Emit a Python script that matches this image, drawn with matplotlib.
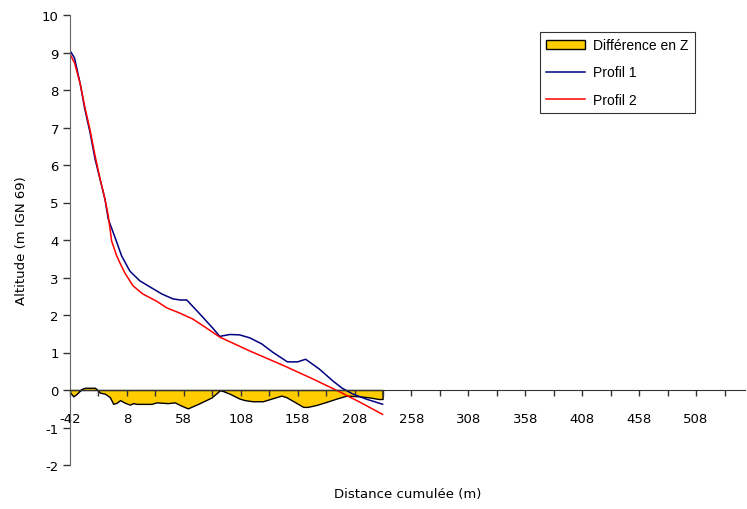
import numpy as np
import matplotlib
matplotlib.use("Agg")
import matplotlib.pyplot as plt
from matplotlib.patches import Patch
from matplotlib.lines import Line2D

plt.rcParams['axes.unicode_minus'] = False

# Profil 1 (blue)
x1 = [-42, -38, -33, -29, -24.5, -20, -15.7, -11.3, -8.4, -2, 3.3, 10.6, 19.4, 28.2,
      38.7, 48.4, 55, 60.6, 72, 83.4, 89.6, 98.4, 107, 116, 126.4, 136, 149, 158,
      165, 177, 189, 197, 206, 218, 232.6]
y1 = [9.05, 8.85, 8.16, 7.49, 6.88, 6.16, 5.63, 5.09, 4.56, 4.03, 3.58, 3.17, 2.91, 2.75,
      2.56, 2.43, 2.40, 2.40, 2.03, 1.65, 1.43, 1.48, 1.47, 1.39, 1.23, 1.01, 0.75, 0.75,
      0.82, 0.56, 0.24, 0.05, -0.10, -0.24, -0.38]

# Profil 2 (red)
x2 = [-42, -38, -33, -29, -24.5, -20, -15.7, -11.3, -8.4, -5.4, -1, 2, 6.2, 13.3, 22,
      34, 43, 54.5, 66, 78, 89.6, 116, 145, 171, 195, 213, 232.6]
y2 = [8.96, 8.72, 8.16, 7.55, 6.95, 6.25, 5.65, 5.09, 4.65, 3.97, 3.58, 3.38, 3.12, 2.78, 2.56,
      2.37, 2.19, 2.05, 1.89, 1.65, 1.41, 1.04, 0.66, 0.30, -0.05, -0.33, -0.65]

# Différence en Z (yellow area)
xd = [-42, -39, -36, -31.7, -28.8, -20, -15.7, -11.3, -7, -4, -1, 2, 6.2, 10.6, 13.5,
      16.5, 29.6, 34, 44, 50, 56, 61.5, 70.6, 82.3, 90, 98.4, 107, 111.5, 118.5, 127.5,
      136, 143.7, 148, 155.5, 162.8, 167, 174.4, 183, 192, 201, 213, 221.6, 229, 232.6]
yd = [-0.06, -0.17, -0.10, 0.03, 0.06, 0.06, -0.07, -0.10, -0.19, -0.37, -0.34, -0.27, -0.34,
      -0.39, -0.35, -0.37, -0.37, -0.33, -0.35, -0.33, -0.42, -0.49, -0.37, -0.20, 0.0,
      -0.10, -0.23, -0.27, -0.30, -0.30, -0.22, -0.15, -0.19, -0.32, -0.45, -0.45, -0.40,
      -0.32, -0.23, -0.15, -0.17, -0.20, -0.24, -0.24]

x_start, x_end, x_step = -42, 551, 25

fig = plt.figure(figsize=(7.47, 5.10), dpi=100)
ax = fig.add_axes([70/747, 44/510, 675/747, 450/510])

ax.fill_between(xd, 0, yd, facecolor='#FFCC00', edgecolor='black', linewidth=1.0,
                zorder=1)
ax.plot(x1, y1, color='#000080', lw=1.1, zorder=3)
ax.plot(x2, y2, color='#FF0000', lw=1.1, zorder=3)

ax.set_xlim(x_start, x_end)
ax.set_ylim(-2, 10)

xt = np.arange(x_start, x_end, x_step)
ax.set_xticks(xt)
ax.set_xticklabels([str(v) if i % 2 == 0 else '' for i, v in enumerate(xt)])
ax.set_yticks(np.arange(-2, 11, 1))

for s in ['top', 'right']:
    ax.spines[s].set_visible(False)
ax.spines['bottom'].set_position(('data', 0))
ax.spines['bottom'].set_color('#333333')
ax.spines['left'].set_color('#666666')
ax.set_axisbelow(False)
for s in ['bottom', 'left']:
    ax.spines[s].set_zorder(4)

ax.tick_params(axis='x', direction='out', length=4, width=1, pad=12,
               labelsize=9.5, colors='#333333', labelcolor='black')
ax.tick_params(axis='y', direction='out', length=5, width=1, pad=3,
               labelsize=9.5, colors='#333333', labelcolor='black')

ax.set_ylabel('Altitude (m IGN 69)', fontsize=9.5)
ax.yaxis.set_label_coords(-0.062, 0.5)
ax.set_xlabel('Distance cumulée (m)', fontsize=9.5)
ax.xaxis.set_label_coords(0.5, -0.05)

handles = [Patch(facecolor='#FFCC00', edgecolor='black', linewidth=1.0),
           Line2D([], [], color='#000080', lw=1.1),
           Line2D([], [], color='#FF0000', lw=1.1)]
labels = ['Différence en Z', 'Profil 1', 'Profil 2']
leg = fig.legend(handles, labels, loc='upper left',
                 bbox_to_anchor=(540/747, 1 - 33/510),
                 prop={'family': 'Liberation Sans', 'size': 10},
                 frameon=True, fancybox=False, shadow=False,
                 borderpad=0.45, labelspacing=0.95, handlelength=2.8,
                 handleheight=0.55, handletextpad=0.6, borderaxespad=0)
leg.get_frame().set_edgecolor('black')
leg.get_frame().set_linewidth(0.8)

fig.savefig('out.png', dpi=100)
